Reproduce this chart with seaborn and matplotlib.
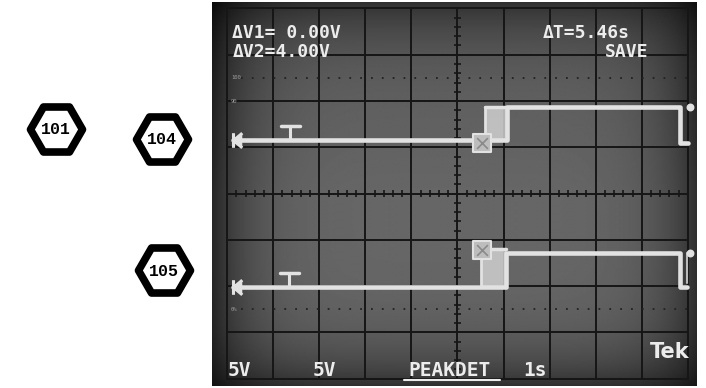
import numpy as np
import pandas as pd
import matplotlib
matplotlib.use("Agg")
import matplotlib.pyplot as plt
from matplotlib.path import Path
import seaborn as sns

# trace data, in graticule divisions (x: 0..10, y: -4..4)
ch1_time = [0.12, 6.08, 6.08, 9.83, 9.83, 10.0]
ch1_level = [1.15, 1.15, 1.88, 1.88, 1.10, 1.10]
ch2_time = [0.12, 6.05, 6.05, 9.83, 9.83, 9.98]
ch2_level = [-2.03, -2.03, -1.28, -1.28, -2.03, -2.03]

# peak-detect smear around the rising edge
burst_start = [5.6, 5.5]
burst_end = [6.08, 6.05]
burst_low = [1.15, -2.03]
burst_high = [1.88, -1.2]

cursor_time = [5.53, 5.53]
cursor_level = [1.1, -1.23]
end_dot_time = [10.04, 10.04]
end_dot_level = [1.88, -1.28]
ground_level = [1.15, -2.03]
trigger_time = [1.37, 1.35]
trigger_level = [1.15, -2.03]

readout_left = ["\u0394V1= 0.00V", "\u0394V2=4.00V"]
readout_right = ["\u0394T=5.46s", "SAVE"]
bottom_labels = ["5V", "5V", "PEAKDET", "1s"]
bottom_pos = [0.0, 1.85, 3.93, 6.42]
pct_labels = ["100", "90", "10", "0%"]
pct_levels = [2.5, 2.0, -2.0, -2.5]

callout_labels = ["101", "104", "105"]
callout_x = [56, 162, 164]
callout_y = [129, 139, 270]

sns.set_theme(style="white")
plt.rcParams["font.family"] = ["DejaVu Sans Mono", "DejaVu Sans"]

W, H = 706, 388
fig = plt.figure(figsize=(W / 100, H / 100), dpi=100)
fig.patch.set_facecolor("white")

# overlay in pixel coords for the reference callouts
ov = fig.add_axes([0, 0, 1, 1], zorder=0)
ov.set_xlim(0, W)
ov.set_ylim(H, 0)
ov.axis("off")
ov.scatter(callout_x, callout_y, marker="H", s=1400, facecolor="white",
           edgecolor="black", linewidths=5.5, zorder=2)
for lab, cx, cy in zip(callout_labels, callout_x, callout_y):
    ov.text(cx, cy + 1, lab, ha="center", va="center", fontsize=12,
            fontweight="bold", family="Liberation Mono", color="black", zorder=3)

# scope screen
x0, x1 = -0.33, 10.2
y0, y1 = -4.16, 4.14
ax = fig.add_axes([212 / W, 2 / H, (697 - 212) / W, (386 - 2) / H], zorder=1)
ax.set_xlim(x0, x1)
ax.set_ylim(y0, y1)
ax.axis("off")

gx, gy = np.meshgrid(np.linspace(x0, x1, 300), np.linspace(y0, y1, 240))
rx = (gx - 5.0) / 5.3
ry = (gy - 0.1) / 4.15
shade = 0.40 * (1 - 0.6 * np.abs(rx) ** 6) * (1 - 0.45 * np.abs(ry) ** 5)
shade -= 0.05 * np.clip(gy / 4.15, 0, 1)
ax.imshow(shade, extent=(x0, x1, y0, y1), origin="lower", cmap="gray",
          vmin=0, vmax=1, aspect="auto", zorder=0, interpolation="bilinear")

grid_c = "#161616"
for gxl in range(11):
    ax.plot([gxl, gxl], [-4, 4], color=grid_c, lw=1.4, zorder=1)
for gyl in range(-4, 5):
    ax.plot([0, 10], [gyl, gyl], color=grid_c, lw=1.4, zorder=1)
ticks_x = np.arange(0, 10.01, 0.2)
ticks_y = np.arange(-4, 4.01, 0.2)
ax.vlines(ticks_x, -0.07, 0.07, color=grid_c, lw=1.2, zorder=1)
ax.hlines(ticks_y, 4.93, 5.07, color=grid_c, lw=1.2, zorder=1)
for lv, lab in zip(pct_levels, pct_labels):
    if abs(lv) == 2.5:
        ax.plot([0.3, 10], [lv, lv], color="#222222", lw=1.3,
                ls=(0, (1, 5)), zorder=1)
    ax.text(0.08, lv, lab, fontsize=4, color="#9a9a9a", va="center", zorder=2)

# traces
trace_c = "#e2e2e2"
df = pd.concat([
    pd.DataFrame({"t": ch1_time, "v": ch1_level, "ch": "CH1"}),
    pd.DataFrame({"t": ch2_time, "v": ch2_level, "ch": "CH2"}),
])
sns.lineplot(data=df, x="t", y="v", units="ch", estimator=None, sort=False,
             color=trace_c, lw=3.3, ax=ax, zorder=4, legend=False)
ax.set_xlim(x0, x1)
ax.set_ylim(y0, y1)
ax.axis("off")

for s, e, lo, hi in zip(burst_start, burst_end, burst_low, burst_high):
    ax.fill_between([s, e], lo, hi, color="#d0d0d0", alpha=0.85, lw=0, zorder=3)
    ax.plot([s, e], [hi, hi], color=trace_c, lw=2.5, zorder=4)
    ax.plot([s, s], [lo, hi], color=trace_c, lw=2.0, zorder=4)

ax.scatter(cursor_time, cursor_level, marker="s", s=150, facecolor="#bdbdbd",
           edgecolor=trace_c, linewidths=1.5, zorder=5)
ax.scatter(cursor_time, cursor_level, marker="x", s=60, color="#8a8a8a",
           linewidths=1.2, zorder=6)
ax.scatter(end_dot_time, end_dot_level, marker="o", s=22, color=trace_c, zorder=5)
ax.plot([9.98, 9.98], [ch2_level[2], ch2_level[-1] + 0.1], color="#bbbbbb",
        lw=1.5, zorder=4)

# ground reference glyph
gnd = Path([(0, 1), (0, -1), (1.2, 1), (0, 0), (1.2, -1)],
           [Path.MOVETO, Path.LINETO, Path.MOVETO, Path.LINETO, Path.LINETO])
ax.scatter([0.13, 0.13], ground_level, marker=gnd, s=160, color=trace_c,
           linewidths=2.2, zorder=6)
# trigger marker
for tt, tl in zip(trigger_time, trigger_level):
    ax.plot([tt, tt], [tl, tl + 0.3], color=trace_c, lw=2.2, zorder=5)
    ax.plot([tt - 0.2, tt + 0.2], [tl + 0.32, tl + 0.32], color=trace_c,
            lw=2.5, zorder=5)

# readouts
txt = dict(color="#ececec", fontweight="bold", zorder=7)
ax.text(0.11, 3.47, readout_left[0], fontsize=13, va="center", **txt)
ax.text(0.11, 3.06, readout_left[1], fontsize=13, va="center", **txt)
ax.text(6.85, 3.47, readout_right[0], fontsize=13, va="center", **txt)
ax.text(8.2, 3.06, readout_right[1], fontsize=13, va="center", **txt)
for lab, px in zip(bottom_labels, bottom_pos):
    ax.text(px, -3.82, lab, fontsize=14, va="center", **txt)
ax.plot([3.83, 5.92], [-4.02, -4.02], color="#ececec", lw=1.5, zorder=7)
ax.text(9.18, -3.43, "Tek", fontsize=15, va="center",
        family="DejaVu Sans", **txt)

fig.savefig("out.png", dpi=100)
